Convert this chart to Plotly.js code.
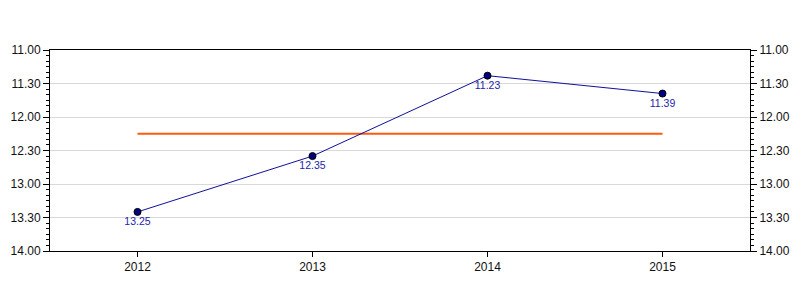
<!DOCTYPE html>
<html><head><meta charset="utf-8">
<script src="https://cdn.plot.ly/plotly-3.0.1.min.js"></script>
<style>html,body{margin:0;padding:0;background:#fff}#chart{width:800px;height:300px}</style>
</head><body><div id="chart"></div>
<script>
// Data (times as minutes.seconds)
const years = ["2012", "2013", "2014", "2015"];
const times = ["13.25", "12.35", "11.23", "11.39"];
const averageTime = "12.15";
const yTickLabels = ["11.00", "11.30", "12.00", "12.30", "13.00", "13.30", "14.00"];

function toMin(s) { const p = s.split("."); return Number(p[0]) + Number(p[1]) / 60; }
const timeVals = times.map(toMin);
const avgVal = toMin(averageTime);
const yTickVals = yTickLabels.map(toMin);
const minorVals = [];
for (let i = 0; i <= 36; i++) minorVals.push(11 + i * 5 / 60);

const tickFont = {family: "Liberation Sans, Arial, sans-serif", size: 12, color: "#111"};
const traces = [
  {x: years, y: years.map(() => avgVal), type: "scatter", mode: "lines",
   line: {color: "#ff5a0f", width: 2}, hoverinfo: "skip", showlegend: false},
  {x: years, y: timeVals, type: "scatter", mode: "lines+markers+text",
   line: {color: "#10109a", width: 1},
   marker: {color: "#000080", size: 7, line: {color: "#000", width: 1}},
   text: times, textposition: "bottom center",
   textfont: {family: "Liberation Sans, Arial, sans-serif", size: 10.5, color: "#2424a8"},
   showlegend: false},
  {x: years, y: timeVals, yaxis: "y2", type: "scatter", mode: "lines",
   line: {width: 0}, opacity: 0, hoverinfo: "skip", showlegend: false}
];
const yBase = {
  range: [14, 11], tickmode: "array", tickvals: yTickVals, ticktext: yTickLabels,
  ticks: "outside", ticklen: 6, tickcolor: "#000", tickwidth: 1,
  minor: {tickmode: "array", tickvals: minorVals, ticks: "outside", ticklen: 3, tickcolor: "#000", showgrid: false},
  tickfont: tickFont, linecolor: "#000", linewidth: 1, zeroline: false, fixedrange: true
};
const layout = {
  width: 800, height: 300, margin: {l: 50, r: 50, t: 50, b: 49},
  paper_bgcolor: "#fff", plot_bgcolor: "#fff",
  xaxis: {type: "category", range: [-0.5, 3.5], ticks: "outside", ticklen: 5, tickcolor: "#000",
    tickfont: tickFont, showline: true, linecolor: "#000", linewidth: 1, mirror: true,
    showgrid: false, zeroline: false},
  yaxis: Object.assign({}, yBase, {side: "left", showline: true, showgrid: true, gridcolor: "#d9d9d9", gridwidth: 1}),
  yaxis2: Object.assign({}, yBase, {side: "right", overlaying: "y", showline: true, showgrid: false}),
  showlegend: false
};
Plotly.newPlot("chart", traces, layout, {staticPlot: true});
</script></body></html>
